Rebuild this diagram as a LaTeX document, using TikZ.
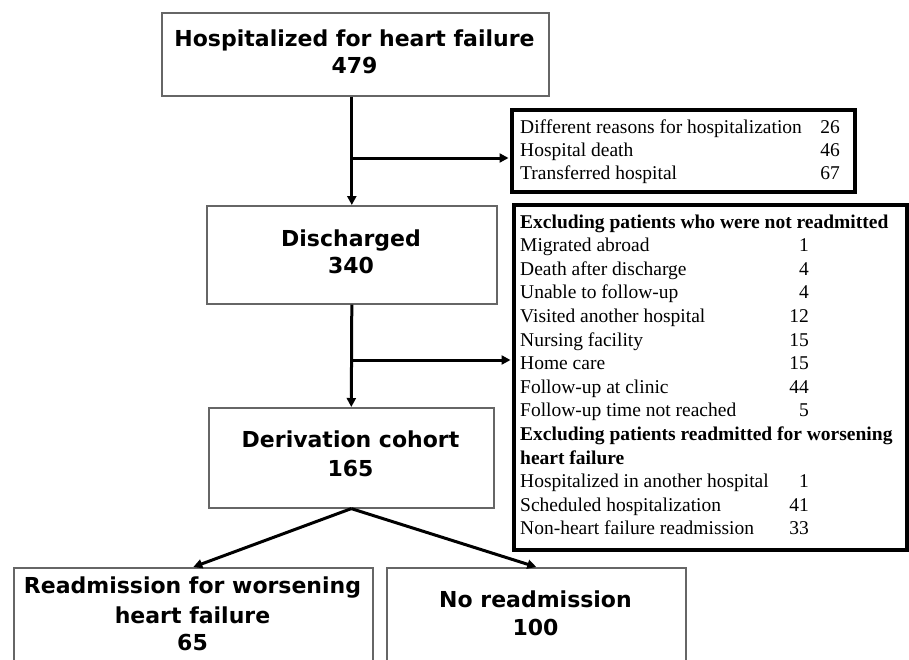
\documentclass[tikz,border=0pt]{standalone}
\usepackage{fontspec}
\setmainfont{Liberation Serif}
\newfontfamily\boxfont{DejaVu Sans}
\usetikzlibrary{arrows.meta}
\begin{document}
\begin{tikzpicture}[x=1pt,y=-1pt,
  mainbox/.style={draw=black!60, line width=1.6pt, fill=white, inner sep=0pt, anchor=north west},
  exbox/.style={draw=black, line width=3.5pt, fill=white, inner sep=0pt, anchor=north west},
  big/.style={font=\boxfont\bfseries\fontsize{22}{26}\selectfont, anchor=base, inner sep=0pt},
  lst/.style={font=\fontsize{19.5}{23}\selectfont, anchor=base west, inner sep=0pt},
  lstb/.style={font=\bfseries\fontsize{19.5}{23}\selectfont, anchor=base west, inner sep=0pt},
  num/.style={font=\fontsize{19.5}{23}\selectfont, anchor=base east, inner sep=0pt},
  arr/.style={line width=3pt, -{Triangle[length=9pt,width=9pt]}}]

\useasboundingbox (0,0) rectangle (909,659);
\clip (0,0) rectangle (909,659);

% main boxes
\node[mainbox, minimum width=387pt, minimum height=83pt] (top) at (161,12) {};
\node[mainbox, minimum width=290pt, minimum height=98pt] (dis) at (206,205) {};
\node[mainbox, minimum width=285pt, minimum height=100pt] (der) at (208,407) {};
\node[mainbox, minimum width=359pt, minimum height=110pt] (bl) at (13,567) {};
\node[mainbox, minimum width=299pt, minimum height=110pt] (br) at (386,567) {};

% exclusion boxes
\node[exbox, minimum width=343pt, minimum height=82pt] (ex1) at (510,108) {};
\node[exbox, minimum width=393pt, minimum height=345pt] (ex2) at (512,203) {};

% main texts
\node[big] (t1) at (354.5,46.5) {Hospitalized for heart failure};
\node[big] (t1n) at (354.5,73.5) {479};
\node[big] (t2) at (351,246.7) {Discharged};
\node[big] (t2n) at (351,273) {340};
\node[big] (t3) at (350.5,447) {Derivation cohort};
\node[big] (t3n) at (350.5,476) {165};
\node[big] (t4) at (192.5,593) {Readmission for worsening};
\node[big] (t4b) at (192.5,623) {heart failure};
\node[big] (t4n) at (192.5,650) {65};
\node[big] (t5) at (535.5,607) {No readmission};
\node[big] (t5n) at (535.5,635) {100};

% exclusion list 1
\node[lst] (a1) at (520,133) {Different reasons for hospitalization};
\node[num] (a1n) at (840,133) {26};
\node[lst] (a2) at (520,156) {Hospital death};
\node[num] (a2n) at (840,156) {46};
\node[lst] (a3) at (520,179) {Transferred hospital};
\node[num] (a3n) at (840,179) {67};

% exclusion list 2
\node[lstb] (h1) at (520,228) {Excluding patients who were not readmitted};
\node[lst] (b1) at (520,251.6) {Migrated abroad};
\node[num] (b1n) at (809,251.6) {1};
\node[lst] (b2) at (520,275.2) {Death after discharge};
\node[num] (b2n) at (809,275.2) {4};
\node[lst] (b3) at (520,298.8) {Unable to follow-up};
\node[num] (b3n) at (809,298.8) {4};
\node[lst] (b4) at (520,322.4) {Visited another hospital};
\node[num] (b4n) at (809,322.4) {12};
\node[lst] (b5) at (520,346) {Nursing facility};
\node[num] (b5n) at (809,346) {15};
\node[lst] (b6) at (520,369.6) {Home care};
\node[num] (b6n) at (809,369.6) {15};
\node[lst] (b7) at (520,393.2) {Follow-up at clinic};
\node[num] (b7n) at (809,393.2) {44};
\node[lst] (b8) at (520,416.8) {Follow-up time not reached};
\node[num] (b8n) at (809,416.8) {5};
\node[lstb] (h2) at (520,440.4) {Excluding patients readmitted for worsening};
\node[lstb] (h2b) at (520,464) {heart failure};
\node[lst] (c1) at (520,487.6) {Hospitalized in another hospital};
\node[num] (c1n) at (809,487.6) {1};
\node[lst] (c2) at (520,511.2) {Scheduled hospitalization};
\node[num] (c2n) at (809,511.2) {41};
\node[lst] (c3) at (520,534.8) {Non-heart failure readmission};
\node[num] (c3n) at (809,534.8) {33};

% connectors
\coordinate (j1) at (351,158);
\coordinate (j2) at (351,360);
\draw[arr] (top.south -| dis.north) -- (dis.north);
\draw[arr, shorten >=1.5pt] (j1) -- (j1 -| ex1.west);
\draw[arr] (dis.south) -- (der.north);
\draw[arr, shorten >=1.5pt] (j2) -- (j2 -| ex2.west);
\draw[arr] (der.south) -- (bl.north);
\draw[arr] (der.south) -- (br.north);
\end{tikzpicture}
\end{document}
